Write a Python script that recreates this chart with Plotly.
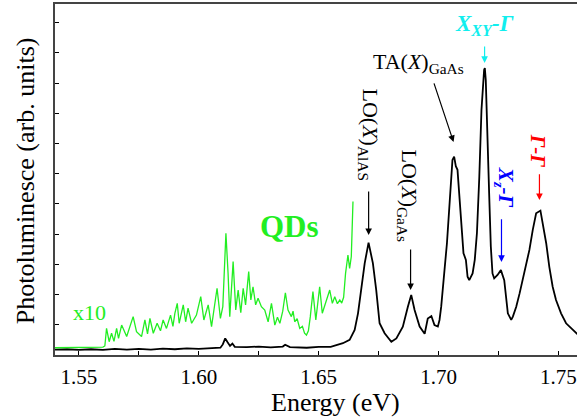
import plotly.graph_objects as go

# Black PL spectrum (energy in eV, intensity arb. units)
black_E = [1.540, 1.545, 1.550, 1.555, 1.560, 1.565, 1.570, 1.575, 1.580, 1.585,
           1.590, 1.595, 1.600, 1.605, 1.609, 1.610, 1.611, 1.612, 1.613, 1.614,
           1.615, 1.620, 1.625, 1.630, 1.635, 1.636, 1.638, 1.645, 1.650, 1.655,
           1.6601, 1.6629, 1.6650, 1.6664, 1.6678, 1.6692, 1.6708, 1.6726, 1.6740, 1.6754,
           1.6775, 1.6803, 1.6824, 1.6851, 1.6872, 1.6886, 1.6900, 1.6921, 1.6942, 1.6955,
           1.6970, 1.6983, 1.6997, 1.7004, 1.7011, 1.7021, 1.7026, 1.7035, 1.7045, 1.7051,
           1.7058, 1.7065, 1.7072, 1.7079, 1.7086, 1.7093, 1.7100, 1.7104, 1.7114, 1.7121,
           1.7128, 1.7142, 1.7151, 1.7160, 1.7170, 1.7179, 1.7190, 1.7193, 1.7197, 1.7204,
           1.7211, 1.7218, 1.7225, 1.7232, 1.7246, 1.7260, 1.7274, 1.7289, 1.7303, 1.7310,
           1.7324, 1.7338, 1.7351, 1.7365, 1.7379, 1.7393, 1.7407, 1.7425, 1.7435, 1.7449,
           1.7462, 1.7476, 1.7490, 1.7511, 1.7532, 1.7560, 1.7583]
black_I = [0.18, 0.19, 0.17, 0.19, 0.17, 0.20, 0.18, 0.20, 0.18, 0.21,
           0.19, 0.22, 0.20, 0.23, 0.24, 0.35, 0.55, 0.42, 0.30, 0.38,
           0.27, 0.26, 0.28, 0.25, 0.28, 0.34, 0.26, 0.24, 0.27, 0.27,
           0.39, 0.50, 0.83, 1.38, 2.15, 3.04, 3.72, 3.04, 2.15, 1.05,
           0.72, 0.44, 0.55, 0.94, 1.60, 1.99, 1.49, 0.94, 0.70, 1.21,
           1.29, 0.99, 0.94, 1.16, 1.60, 2.70, 2.92, 3.70, 4.80, 5.79,
           6.46, 6.57, 6.25, 6.13, 5.35, 4.47, 3.59, 3.37, 3.15, 2.59,
           2.48, 2.70, 3.15, 4.03, 5.90, 8.11, 9.44, 9.50, 9.10, 7.56,
           5.35, 3.59, 2.70, 2.54, 2.65, 2.81, 2.48, 1.38, 1.16, 1.27,
           1.60, 2.04, 2.48, 2.92, 3.48, 4.14, 4.69, 4.78, 4.36, 3.70,
           2.92, 2.26, 1.82, 1.38, 1.05, 0.83, 0.66]

# Green QD spectrum (x10)
green_E = [1.540, 1.545, 1.550, 1.555, 1.5600, 1.5608, 1.5615, 1.5626, 1.5636, 1.5646,
           1.5657, 1.5665, 1.5678, 1.5699, 1.5726, 1.5740, 1.5761, 1.5775, 1.5786, 1.5796,
           1.5810, 1.5826, 1.5840, 1.5851, 1.5865, 1.5882, 1.5892, 1.5900, 1.5910, 1.5918,
           1.5935, 1.5945, 1.5955, 1.5970, 1.5990, 1.6008, 1.6021, 1.6039, 1.6053, 1.6076,
           1.6090, 1.6100, 1.6113, 1.6122, 1.6129, 1.6143, 1.6154, 1.6164, 1.6175, 1.6185,
           1.6195, 1.6208, 1.6217, 1.6226, 1.6237, 1.6247, 1.6261, 1.6275, 1.6289, 1.6303,
           1.6317, 1.6328, 1.6338, 1.6350, 1.6361, 1.6372, 1.6386, 1.6393, 1.6400, 1.6410,
           1.6421, 1.6432, 1.6441, 1.6449, 1.6457, 1.6465, 1.6476,
           1.6488, 1.6504, 1.6515, 1.6532, 1.6546, 1.6557, 1.6567, 1.6578, 1.6588, 1.6596,
           1.6604, 1.6612, 1.6622, 1.6629, 1.6636, 1.6643]
green_I = [0.24, 0.25, 0.24, 0.26, 0.26, 0.30, 0.88, 0.44, 0.72, 0.45,
           0.88, 0.55, 0.99, 0.61, 1.27, 0.77, 0.61, 1.16, 0.70, 1.21,
           0.72, 1.05, 0.80, 1.16, 0.88, 1.32, 0.95, 1.38, 1.71, 1.05,
           1.66, 1.10, 1.55, 1.05, 1.32, 1.93, 1.16, 1.66, 0.94, 2.21,
           1.21, 1.60, 4.03, 2.70, 1.27, 3.09, 1.49, 2.15, 1.40, 2.21,
           1.66, 2.76, 1.82, 2.26, 1.66, 1.88, 1.60, 1.49, 1.10, 1.71,
           0.99, 1.25, 1.05, 1.45, 2.06, 1.49, 1.27, 1.45, 1.10, 1.20,
           0.88, 0.95, 0.72, 0.66, 0.80, 1.27, 2.10,
           1.16, 2.26, 1.38, 1.82, 2.15, 1.71, 1.93, 1.70, 1.82, 1.72,
           1.91, 2.70, 3.31, 2.87, 3.26, 5.08]

x_tick_vals = [1.55, 1.60, 1.65, 1.70, 1.75]
x_tick_text = ["1.55", "1.60", "1.65", "1.70", "1.75"]

FONT = "Liberation Serif"
GREEN = "#22ee22"
CYAN = "#11eeee"
BLUE = "#0000ff"
RED = "#ff0000"

fig = go.Figure()
fig.add_trace(go.Scatter(x=black_E, y=black_I, mode="lines",
                         line=dict(color="black", width=1.8), showlegend=False))
fig.add_trace(go.Scatter(x=green_E, y=green_I, mode="lines",
                         line=dict(color=GREEN, width=1.3), showlegend=False))

def arrow(x0, y0, x1, y1, color):
    fig.add_annotation(x=x1, y=y1, ax=x0, ay=y0, xref="x", yref="y",
                       axref="x", ayref="y", text="", showarrow=True,
                       arrowhead=2, arrowsize=1.1, arrowwidth=1.2, arrowcolor=color)

arrow(1.7192, 10.26, 1.7192, 9.67, CYAN)
arrow(1.6979, 9.04, 1.70625, 7.05, "black")
arrow(1.67083, 5.46, 1.67083, 3.97, "black")
arrow(1.68833, 3.54, 1.68833, 2.15, "black")
arrow(1.72625, 4.54, 1.72625, 3.08, BLUE)
arrow(1.74208, 6.03, 1.74208, 5.13, RED)

def label(x, y, text, color, size, angle=0):
    fig.add_annotation(x=x, y=y, xref="x", yref="y", text=text, showarrow=False,
                       textangle=angle, xanchor="center", yanchor="middle",
                       font=dict(family=FONT, size=size, color=color))

label(1.71917, 10.93, "<b><i>X<sub>XY</sub>-Γ</i></b>", CYAN, 23)
label(1.69167, 9.67, "TA(<i>X</i>)<sub>GaAs</sub>", "black", 22)
label(1.67083, 7.28, "LO(<i>X</i>)<sub>AlAS</sub>", "black", 22, 90)
label(1.68708, 5.26, "LO(<i>X</i>)<sub>GaAs</sub>", "black", 22, 90)
label(1.72750, 5.55, "<b><i>X<sub>z</sub>-Γ</i></b>", BLUE, 21, 90)
label(1.74125, 6.75, "<b><i>Γ-Γ</i></b>", RED, 21, 90)
label(1.63792, 4.24, "<b>QDs</b>", GREEN, 31)
label(1.55458, 1.42, "x10", GREEN, 22)

# axis titles
fig.add_annotation(x=0.538, y=0, xref="paper", yref="paper", yshift=-47,
                   text="Energy (eV)", showarrow=False, xanchor="center",
                   yanchor="middle", font=dict(family=FONT, size=26, color="black"))
fig.add_annotation(x=0, y=0.495, xref="paper", yref="paper", xshift=-30,
                   text="Photoluminesce (arb. units)", showarrow=False, textangle=-90,
                   xanchor="center", yanchor="middle",
                   font=dict(family=FONT, size=26, color="black"))

fig.update_layout(
    width=577, height=417,
    margin=dict(l=55, r=0, t=4, b=62, autoexpand=False),
    paper_bgcolor="white", plot_bgcolor="white",
    font=dict(family=FONT, size=21, color="black"),
    xaxis=dict(range=[1.54, 1.75775], tickvals=x_tick_vals, ticktext=x_tick_text,
               ticks="inside", ticklen=4, tickcolor="black", showgrid=False,
               zeroline=False, showline=True, linecolor="#444", linewidth=1.5,
               mirror=True, ticklabelstandoff=2, automargin=False,
               minor=dict(ticks="inside", ticklen=4, dtick=0.025, tick0=1.525,
                          tickcolor="black", showgrid=False)),
    yaxis=dict(range=[0, 11.62], dtick=1, tick0=0, ticks="inside", ticklen=4,
               tickcolor="black", showticklabels=False, showgrid=False,
               zeroline=False, showline=True, linecolor="#444", linewidth=1.5,
               automargin=False),
)

fig.write_html("out.html", config={"displayModeBar": False},
               post_script="document.body.style.margin='0';document.body.style.overflow='hidden';")
